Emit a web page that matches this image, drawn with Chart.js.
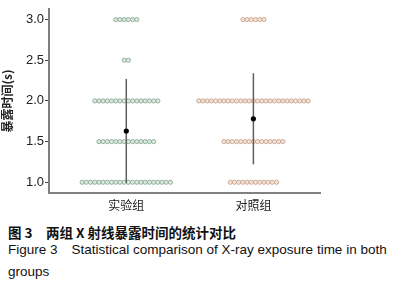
<!DOCTYPE html>
<html>
<head>
<meta charset="utf-8">
<script src="https://cdn.jsdelivr.net/npm/chart.js@4"></script>
<style>
  body { margin: 0; background: #fff; width: 396px; height: 285px; overflow: hidden; position: relative; color: #111; }
  #wrap { position: absolute; left: 0; top: 0; width: 396px; height: 215px; }
  .cap { position: absolute; left: 8px; white-space: pre; line-height: 16px; }
  #cap1 { top: 224px; font-size: 13.5px; font-weight: bold; font-family: "Noto Sans CJK SC", sans-serif; }
  #cap2 { top: 242px; font-size: 13.5px; font-family: "Liberation Sans", Arial, sans-serif; }
  #cap3 { top: 264px; font-size: 13.5px; font-family: "Liberation Sans", Arial, sans-serif; }
</style>
</head>
<body>
<div id="wrap"><canvas id="chart" width="396" height="215"></canvas></div>
<div class="cap" id="cap1">图 3　两组 X 射线暴露时间的统计对比</div>
<div class="cap" id="cap2">Figure 3　Statistical comparison of X-ray exposure time in both</div>
<div class="cap" id="cap3">groups</div>
<script>
// exposure time levels (s) and how many patients sit on each level
const levels = [1.0, 1.5, 2.0, 2.5, 3.0];
const groups = ['实验组', '对照组'];
const experimentalCounts = [22, 14, 16, 2, 6];
const controlCounts = [12, 15, 27, 0, 6];
// mean and SD
const groupMeans = [1.63, 1.78];
const groupSDs = [0.64, 0.56];
const yTicks = [1.0, 1.5, 2.0, 2.5, 3.0];

// spread the dots of one level side by side (beeswarm style)
const dotStep = 0.0331;
function swarm(counts, center) {
  const pts = [];
  levels.forEach((v, i) => {
    const n = counts[i];
    for (let j = 0; j < n; j++) {
      pts.push({ x: center + (j - (n - 1) / 2) * dotStep, y: v });
    }
  });
  return pts;
}

const errorBars = groups.map((g, i) => ({
  type: 'line',
  data: [
    { x: i + 1, y: groupMeans[i] - groupSDs[i] },
    { x: i + 1, y: groupMeans[i] + groupSDs[i] }
  ],
  borderColor: '#5f5f5f',
  borderWidth: 1.5,
  pointRadius: 0,
  order: 2
}));

const chartData = {
  datasets: [
    {
      label: groups[0],
      data: swarm(experimentalCounts, 1),
      pointRadius: 2.1,
      borderWidth: 0.8,
      backgroundColor: '#dde8df',
      borderColor: '#7ea38b',
      order: 3
    },
    {
      label: groups[1],
      data: swarm(controlCounts, 2),
      pointRadius: 2.1,
      borderWidth: 0.8,
      backgroundColor: '#f3e4da',
      borderColor: '#c49a82',
      order: 3
    },
    ...errorBars,
    {
      label: 'mean',
      data: groupMeans.map((m, i) => ({ x: i + 1, y: m })),
      pointRadius: 2.6,
      backgroundColor: '#000',
      borderColor: '#000',
      borderWidth: 0,
      order: 1
    }
  ]
};

const chartConfig = {
  type: 'scatter',
  data: chartData,
  options: {
    responsive: false,
    animation: false,
    layout: { padding: { top: 9, right: 76, left: 0, bottom: 0 } },
    plugins: { legend: { display: false }, tooltip: { enabled: false } },
    scales: {
      x: {
        type: 'linear',
        min: 0.392,
        max: 2.524,
        afterBuildTicks: s => { s.ticks = [{ value: 1 }, { value: 2 }]; },
        afterFit: s => { s.height = 22; },
        ticks: {
          callback: v => groups[v - 1],
          font: { family: '"Noto Sans CJK SC"', size: 12 },
          color: '#222',
          padding: 5,
          maxRotation: 0
        },
        grid: { drawOnChartArea: false, drawTicks: false },
        border: { color: '#808080', width: 2 }
      },
      y: {
        min: 0.868,
        max: 3.13,
        afterBuildTicks: s => { s.ticks = yTicks.map(v => ({ value: v })); },
        afterFit: s => { s.width = 49; },
        ticks: {
          callback: v => v.toFixed(1),
          font: { family: '"Liberation Sans", Arial', size: 13 },
          color: '#222',
          padding: 1
        },
        grid: { drawOnChartArea: false, drawTicks: true, tickLength: 4, color: '#444' },
        border: { color: '#808080', width: 2 },
        title: {
          display: true,
          text: '暴露时间(s)',
          font: { family: '"Noto Sans CJK SC"', size: 12, weight: 'bold' },
          color: '#222',
          padding: 0
        }
      }
    }
  }
};

new Chart(document.getElementById('chart').getContext('2d'), chartConfig);
</script>
</body>
</html>
